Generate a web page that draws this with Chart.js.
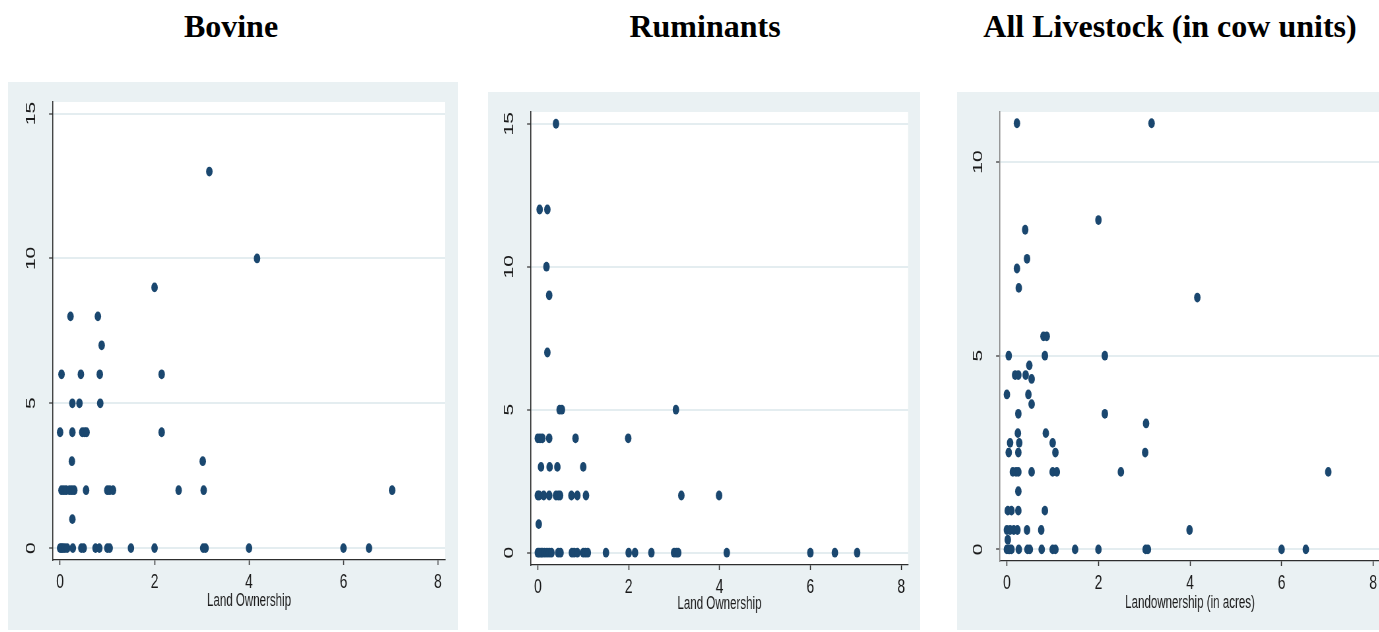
<!DOCTYPE html>
<html>
<head>
<meta charset="utf-8">
<script src="https://cdn.jsdelivr.net/npm/chart.js@4.4.1/dist/chart.umd.min.js"></script>
<style>
  html, body { margin: 0; padding: 0; background: #ffffff; overflow: hidden; width: 1379px; height: 632px; }
  .title { position: absolute; top: 10px; width: 600px; text-align: center;
           font: bold 32px "Liberation Serif", "Times New Roman", serif; line-height: 32px; color: #000; }
  .panel { position: absolute; transform-origin: 0 0; }
  canvas { display: block; }
</style>
</head>
<body>
<div class="title" style="left:-69px">Bovine</div>
<div class="title" style="left:405px">Ruminants</div>
<div class="title" style="left:870px">All Livestock (in cow units)</div>

<div class="panel" id="p1"><canvas id="c1"></canvas></div>
<div class="panel" id="p2"><canvas id="c2"></canvas></div>
<div class="panel" id="p3"><canvas id="c3"></canvas></div>

<script>
// ---- Bovine: land owned (acres) vs. number of bovine animals ----
const bovineLand = [
  0, 0.03, 0.06, 0.1, 0.15, 0.27, 0.45, 0.5, 0.75, 0.83, 1.0, 1.05, 1.5, 2.0, 3.03, 3.08, 4.0, 6.0, 6.54,
  0.26,
  0.03, 0.08, 0.13, 0.2, 0.25, 0.3, 0.55, 1.0, 1.05, 1.12, 2.51, 3.04, 7.03,
  0.25, 3.02,
  0.0, 0.26, 0.47, 0.52, 0.56, 2.15,
  0.26, 0.41, 0.85,
  0.03, 0.44, 0.84, 2.15,
  0.88,
  0.22, 0.8,
  2.0,
  4.17,
  3.16
];
const bovineCount = [
  0, 0, 0, 0, 0, 0, 0, 0, 0, 0, 0, 0, 0, 0, 0, 0, 0, 0, 0,
  1,
  2, 2, 2, 2, 2, 2, 2, 2, 2, 2, 2, 2, 2,
  3, 3,
  4, 4, 4, 4, 4, 4,
  5, 5, 5,
  6, 6, 6, 6,
  7,
  8, 8,
  9,
  10,
  13
];

// ---- Ruminants ----
const ruminantLand = [
  0, 0.03, 0.07, 0.1, 0.15, 0.2, 0.25, 0.3, 0.45, 0.5, 0.75, 0.8, 0.87, 1.0, 1.05, 1.1, 1.5, 2.0, 2.14, 2.5,
  3.0, 3.05, 3.09, 4.16, 6.0, 6.54, 7.03,
  0.02,
  0.0, 0.03, 0.13, 0.25, 0.4, 0.45, 0.49, 0.74, 0.87, 1.06, 3.16, 3.99,
  0.07, 0.26, 0.43, 1.0,
  0.0, 0.05, 0.1, 0.25, 0.83, 1.99,
  0.48, 0.53, 3.04,
  0.21,
  0.25,
  0.19,
  0.04, 0.21,
  0.4
];
const ruminantCount = [
  0, 0, 0, 0, 0, 0, 0, 0, 0, 0, 0, 0, 0, 0, 0, 0, 0, 0, 0, 0,
  0, 0, 0, 0, 0, 0, 0,
  1,
  2, 2, 2, 2, 2, 2, 2, 2, 2, 2, 2, 2,
  3, 3, 3, 3,
  4, 4, 4, 4, 4, 4,
  5, 5, 5,
  7,
  9,
  10,
  12, 12,
  15
];

// ---- All livestock, expressed in cow units ----
const livestockLand = [
  0, 0.03, 0.06, 0.1, 0.26, 0.45, 0.5, 0.76, 1.0, 1.06, 1.49, 2.0, 3.03, 3.08, 6.0, 6.53,
  0.02,
  0.0, 0.07, 0.15, 0.23, 0.44, 0.75, 3.99,
  0.02, 0.1, 0.25, 0.83,
  0.25,
  0.13, 0.2, 0.25, 0.54, 1.0, 1.09, 2.49, 7.02,
  0.04, 0.25, 1.06, 3.02,
  0.07, 0.27, 1.0,
  0.24, 0.85,
  3.04,
  0.25, 2.14,
  0.54,
  0.0, 0.47,
  0.54,
  0.18, 0.25, 0.41,
  0.49,
  0.04, 0.83, 2.14,
  0.8, 0.87,
  4.16,
  0.26,
  0.22,
  0.44,
  0.4,
  2.0,
  0.22, 3.16
];
const livestockUnits = [
  0, 0, 0, 0, 0, 0, 0, 0, 0, 0, 0, 0, 0, 0, 0, 0,
  0.25,
  0.5, 0.5, 0.5, 0.5, 0.5, 0.5, 0.5,
  1, 1, 1, 1,
  1.5,
  2, 2, 2, 2, 2, 2, 2, 2,
  2.5, 2.5, 2.5, 2.5,
  2.75, 2.75, 2.75,
  3, 3,
  3.25,
  3.5, 3.5,
  3.75,
  4, 4,
  4.4,
  4.5, 4.5, 4.5,
  4.75,
  5, 5, 5,
  5.5, 5.5,
  6.5,
  6.75,
  7.25,
  7.5,
  8.25,
  8.5,
  11, 11
];

// ---- Axis ticks ----
const landTicks = [0, 2, 4, 6, 8];
const headTicks = [0, 5, 10, 15];
const unitTicks = [0, 5, 10];

// ---- Styling / layout ----
const SQUEEZE = 0.66;            // horizontal compression of each graph panel
const PANEL_BG = '#eaf1f3';
const MARKER = '#1a476f';
const GRID = '#e4edf0';
const AXIS = '#2e2e2e';
const TICK_FONT = { family: '"Liberation Sans", Arial, sans-serif', size: 21 };

// Draws the y-axis numbers turned 90°, centred on their ticks
const rotatedYLabels = {
  id: 'rotatedYLabels',
  afterDraw(chart, args, opts) {
    const ys = chart.scales.y;
    const ctx = chart.ctx;
    ctx.save();
    ctx.fillStyle = '#1a1a1a';
    ctx.font = TICK_FONT.size + 'px ' + TICK_FONT.family;
    ctx.textAlign = 'center';
    ctx.textBaseline = 'middle';
    ys.ticks.forEach(t => {
      const y = ys.getPixelForValue(t.value);
      ctx.save();
      ctx.translate(ys.right - opts.offset, y);
      ctx.rotate(-Math.PI / 2);
      ctx.fillText(String(t.value), 0, 0);
      ctx.restore();
    });
    ctx.restore();
  }
};

// Light panel background with a white plot region
const panelBackground = {
  id: 'panelBackground',
  beforeDraw(chart) {
    const { ctx, chartArea: a, width, height } = chart;
    ctx.save();
    ctx.fillStyle = PANEL_BG;
    ctx.fillRect(0, 0, width, height);
    ctx.fillStyle = '#ffffff';
    ctx.fillRect(a.left, a.top, a.right - a.left, a.bottom - a.top);
    ctx.restore();
  }
};

function makePanel(id, canvasId, g, xs, ys, yTicks, yRange, xTitle, axisColorY) {
  const wrap = document.getElementById(id);
  wrap.style.left = g.left + 'px';
  wrap.style.top = g.top + 'px';
  wrap.style.transform = 'scaleX(' + SQUEEZE + ')';

  const cw = Math.round(g.width / SQUEEZE);
  const yAxisW = (g.plotLeft - g.left) / SQUEEZE;
  const rightPad = cw - (g.plotRight - g.left) / SQUEEZE;
  const topPad = g.plotTop - g.top;
  const xAxisH = g.height - (g.plotBottom - g.top);

  const canvas = document.getElementById(canvasId);
  canvas.width = cw;
  canvas.height = g.height;

  const pts = xs.map((x, i) => ({ x: x, y: ys[i] }));

  new Chart(canvas, {
    type: 'scatter',
    data: {
      datasets: [{
        data: pts,
        backgroundColor: MARKER,
        borderWidth: 0,
        pointRadius: 4.9,
        pointHoverRadius: 4.9
      }]
    },
    options: {
      responsive: false,
      animation: false,
      devicePixelRatio: 1,
      layout: { padding: { left: 0, top: topPad, right: rightPad, bottom: 0 } },
      plugins: {
        legend: { display: false },
        tooltip: { enabled: false },
        rotatedYLabels: { offset: 33 }
      },
      scales: {
        x: {
          type: 'linear',
          min: -0.15,
          max: 8.15,
          afterBuildTicks: s => { s.ticks = landTicks.map(v => ({ value: v })); },
          afterFit: s => { s.height = xAxisH; },
          grid: { display: true, drawOnChartArea: false, drawTicks: true, tickLength: 5,
                  tickColor: AXIS, tickWidth: 1.5 },
          border: { display: true, color: AXIS, width: 1.3 },
          ticks: { color: '#1a1a1a', padding: 5, maxRotation: 0, autoSkip: false, font: TICK_FONT },
          title: { display: true, text: xTitle, color: '#1a1a1a',
                   font: { family: '"Liberation Sans", Arial, sans-serif', size: 17.5 },
                   padding: { top: 0, bottom: g.titlePad } }
        },
        y: {
          type: 'linear',
          min: yRange[0],
          max: yRange[1],
          afterBuildTicks: s => { s.ticks = yTicks.map(v => ({ value: v })); },
          afterFit: s => { s.width = yAxisW; },
          grid: { display: true, drawOnChartArea: true, drawTicks: true, tickLength: 6,
                  color: GRID, lineWidth: 2, tickColor: AXIS, tickWidth: 1.2 },
          border: { display: true, color: axisColorY, width: 1.6 },
          ticks: { display: false }
        }
      }
    },
    plugins: [panelBackground, rotatedYLabels]
  });
}

makePanel('p1', 'c1',
  { left: 8, top: 82, width: 450, height: 548, plotLeft: 53, plotRight: 445, plotTop: 102, plotBottom: 560, titlePad: 18 },
  bovineLand, bovineCount, headTicks, [-0.41, 15.4], 'Land Ownership', AXIS);

makePanel('p2', 'c2',
  { left: 488, top: 92, width: 432, height: 538, plotLeft: 531, plotRight: 908, plotTop: 112, plotBottom: 565, titlePad: 15.5 },
  ruminantLand, ruminantCount, headTicks, [-0.43, 15.41], 'Land Ownership', AXIS);

makePanel('p3', 'c3',
  { left: 957, top: 92, width: 430, height: 538, plotLeft: 1000, plotRight: 1380, plotTop: 112, plotBottom: 561, titlePad: 16.5 },
  livestockLand, livestockUnits, unitTicks, [-0.30, 11.29], 'Landownership (in acres)', '#8c8c8c');
</script>
</body>
</html>
